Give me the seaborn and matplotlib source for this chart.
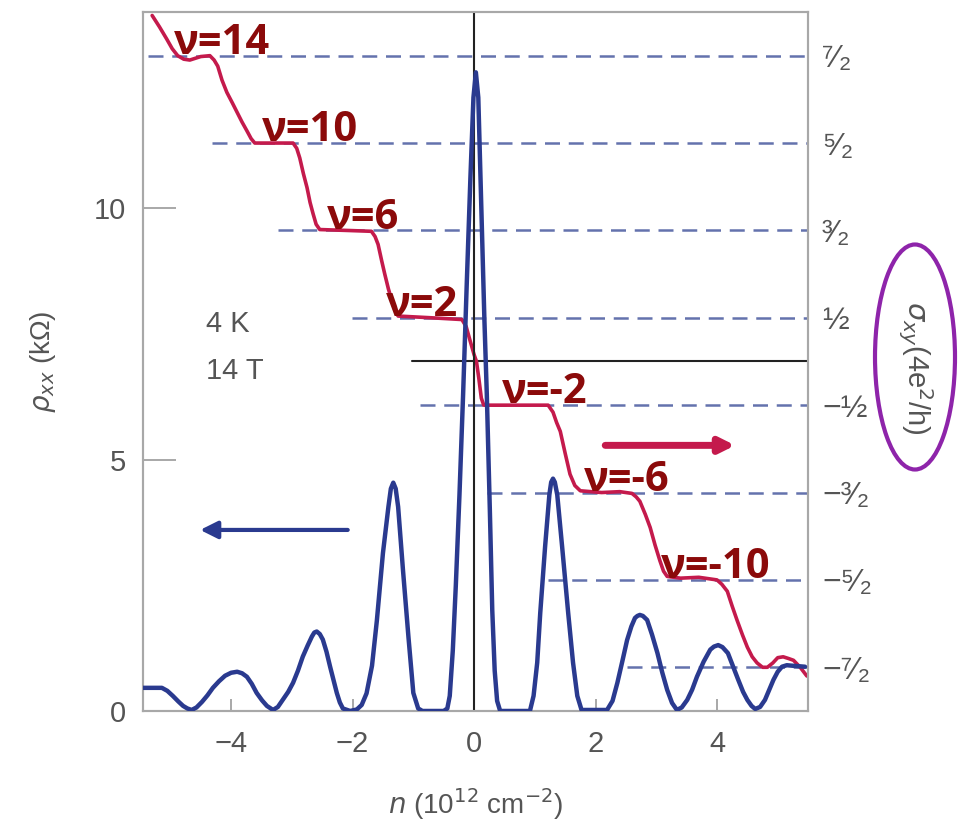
import matplotlib
matplotlib.use("Agg")
import matplotlib.pyplot as plt
from matplotlib.patches import Ellipse
import seaborn as sns
import pandas as pd

# rho_xx (kOhm)
rho_n = [-5.45, -5.14, -5.05, -4.96, -4.87, -4.79, -4.72, -4.65, -4.57, -4.48,
         -4.39, -4.30, -4.20, -4.10, -4.00, -3.90, -3.82, -3.74, -3.66, -3.58,
         -3.49, -3.41, -3.31, -3.23, -3.15, -3.06, -2.98, -2.90, -2.82, -2.74,
         -2.67, -2.63, -2.59, -2.54, -2.49, -2.43, -2.37, -2.31, -2.26, -2.21,
         -2.16, -2.04, -1.93, -1.85, -1.77, -1.68, -1.60, -1.50, -1.41, -1.37,
         -1.33, -1.29, -1.25, -1.17, -1.08, -1.00, -0.92, -0.85, -0.50, -0.44,
         -0.40, -0.35, -0.30, -0.24, -0.18, -0.12, -0.06, -0.01, 0.03, 0.07,
         0.12, 0.17, 0.21, 0.26, 0.30, 0.34, 0.38, 0.43, 0.92, 0.98,
         1.04, 1.09, 1.17, 1.24, 1.27, 1.30, 1.33, 1.37, 1.45, 1.55,
         1.63, 1.70, 1.77, 2.19, 2.28, 2.36, 2.44, 2.52, 2.59, 2.65,
         2.69, 2.73, 2.78, 2.85, 2.93, 3.02, 3.10, 3.18, 3.26, 3.34,
         3.42, 3.51, 3.59, 3.67, 3.78, 3.89, 3.95, 4.02, 4.09, 4.18,
         4.26, 4.35, 4.43, 4.50, 4.57, 4.63, 4.71, 4.79, 4.86, 4.93,
         5.00, 5.07, 5.15, 5.24, 5.35, 5.45]
rho_val = [0.46, 0.46, 0.40, 0.30, 0.19, 0.10, 0.05, 0.02, 0.07, 0.18,
           0.31, 0.46, 0.59, 0.70, 0.76, 0.78, 0.75, 0.68, 0.54, 0.36,
           0.21, 0.10, 0.02, 0.08, 0.22, 0.38, 0.56, 0.80, 1.08, 1.30,
           1.48, 1.56, 1.58, 1.53, 1.42, 1.18, 0.88, 0.60, 0.36, 0.17,
           0.05, 0.00, 0.03, 0.12, 0.35, 0.90, 1.80, 3.14, 4.06, 4.42,
           4.54, 4.42, 4.06, 2.80, 1.47, 0.36, 0.05, 0.00, 0.00, 0.05,
           0.30, 1.20, 2.50, 4.30, 6.30, 8.50, 10.6, 12.2, 12.7, 12.2,
           10.0, 7.80, 6.30, 4.00, 2.00, 0.80, 0.20, 0.00, 0.00, 0.30,
           0.96, 1.95, 3.27, 4.30, 4.55, 4.62, 4.55, 4.30, 3.27, 1.95,
           0.96, 0.30, 0.02, 0.02, 0.20, 0.56, 0.98, 1.41, 1.68, 1.85,
           1.89, 1.91, 1.89, 1.81, 1.52, 1.15, 0.76, 0.42, 0.16, 0.02,
           0.07, 0.22, 0.42, 0.68, 0.98, 1.22, 1.28, 1.31, 1.27, 1.15,
           0.90, 0.62, 0.38, 0.22, 0.10, 0.04, 0.08, 0.22, 0.42, 0.62,
           0.78, 0.88, 0.91, 0.90, 0.89, 0.88]

# sigma_xy (4e^2/h)
sig_n = [-5.30, -5.18, -5.06, -4.97, -4.88, -4.78, -4.68, -4.50, -4.35, -4.28,
         -4.22, -4.15, -4.07, -3.98, -3.90, -3.82, -3.74, -3.67, -3.61, -3.30,
         -2.98, -2.92, -2.87, -2.81, -2.75, -2.70, -2.65, -2.60, -2.54, -2.10,
         -1.69, -1.63, -1.58, -1.52, -1.47, -1.41, -1.35, -1.30, -1.25, -0.70,
         -0.20, -0.13, -0.07, 0.00, 0.04, 0.08, 0.12, 0.16, 0.70, 1.22,
         1.30, 1.36, 1.42, 1.50, 1.58, 1.66, 1.75, 2.10, 2.40, 2.60,
         2.67, 2.73, 2.82, 2.90, 2.98, 3.06, 3.12, 3.18, 3.40, 3.70,
         4.00, 4.08, 4.17, 4.25, 4.33, 4.42, 4.50, 4.58, 4.66, 4.75,
         4.83, 4.92, 5.00, 5.09, 5.18, 5.26, 5.37, 5.48]
sig_val = [3.96, 3.83, 3.69, 3.58, 3.50, 3.46, 3.45, 3.49, 3.50, 3.45,
           3.38, 3.22, 3.08, 2.96, 2.85, 2.74, 2.64, 2.55, 2.50, 2.50,
           2.50, 2.44, 2.33, 2.15, 1.99, 1.82, 1.69, 1.57, 1.51, 1.50,
           1.49, 1.43, 1.34, 1.15, 1.00, 0.83, 0.69, 0.58, 0.52, 0.50,
           0.48, 0.40, 0.25, 0.08, 0.00, -0.20, -0.42, -0.50, -0.50, -0.50,
           -0.58, -0.70, -0.80, -1.05, -1.29, -1.42, -1.48, -1.50, -1.49, -1.51,
           -1.55, -1.60, -1.75, -1.90, -2.10, -2.28, -2.40, -2.46, -2.48, -2.47,
           -2.50, -2.55, -2.63, -2.80, -2.96, -3.13, -3.27, -3.38, -3.45, -3.50,
           -3.50, -3.45, -3.39, -3.38, -3.40, -3.42, -3.50, -3.60]

# quantised plateau levels and where their dashed guides begin
levels = [3.5, 2.5, 1.5, 0.5, -0.5, -1.5, -2.5, -3.5]
level_labels = ["⁷⁄₂", "⁵⁄₂", "³⁄₂", "½", "−½", "−³⁄₂", "−⁵⁄₂", "−⁷⁄₂"]
guide_start = [-5.37, -4.32, -3.23, -2.01, -0.89, 0.22, 1.22, 2.52]

nu_labels = ["ν=14", "ν=10", "ν=6", "ν=2", "ν=-2", "ν=-6", "ν=-10"]
nu_x = [-4.95, -3.50, -2.43, -1.45, 0.46, 1.81, 3.08]

BLUE = "#2a3a8f"
RED = "#c41a4c"
DARK_RED = "#8b0a0a"
GUIDE = "#6472ad"
GRAY = "#555555"

sns.set_style("white")
plt.rcParams["font.family"] = ["Liberation Sans", "DejaVu Sans"]

fig = plt.figure(figsize=(9.62, 8.27), dpi=100)
ax = fig.add_axes([0.1487, 0.1403, 0.6913, 0.8452])
ax2 = ax.twinx()

xmin, xmax = -5.45, 5.5
ax.set_xlim(xmin, xmax)
ax.set_ylim(0, 13.9)
ax2.set_ylim(-4, 4)

# guides and zero lines on the sigma axis
for lv, x0 in zip(levels, guide_start):
    ax2.plot([x0, xmax], [lv, lv], ls=(0, (6, 3.5)), color=GUIDE, lw=1.8, zorder=1)
ax2.plot([-1.02, xmax], [0, 0], color="#222222", lw=1.5, zorder=1)
ax.axvline(0, color="#222222", lw=1.5, zorder=1)

sig_df = pd.DataFrame({"n": sig_n, "sigma": sig_val})
sns.lineplot(data=sig_df, x="n", y="sigma", ax=ax2, color=RED, lw=2.6,
             sort=False, estimator=None, zorder=3, solid_joinstyle="round")

rho_df = pd.DataFrame({"n": rho_n, "rho": rho_val})
sns.lineplot(data=rho_df, x="n", y="rho", ax=ax, color=BLUE, lw=3.2,
             sort=False, estimator=None, zorder=4, solid_joinstyle="round")

ax.set_zorder(ax2.get_zorder() + 1)
ax.patch.set_visible(False)

for lab, xl, lv in zip(nu_labels, nu_x, levels[:7]):
    ax2.text(xl, lv + 0.02, lab, color=DARK_RED, fontsize=30, fontweight="bold",
             family=["Open Sans", "DejaVu Sans"], va="baseline", ha="left", zorder=5)

# direction arrows
ax.annotate("", xy=(-4.51, 3.6), xytext=(-2.08, 3.6),
            arrowprops=dict(arrowstyle="-|>", color=BLUE, lw=3,
                            mutation_scale=26, shrinkA=0, shrinkB=0))
ax2.annotate("", xy=(4.3, -0.96), xytext=(2.16, -0.96),
             arrowprops=dict(arrowstyle="-|>", color=RED, lw=5,
                             mutation_scale=22, shrinkA=0, shrinkB=0))

ax.text(-4.42, 7.53, "4 K", fontsize=21, color=GRAY)
ax.text(-4.42, 6.6, "14 T", fontsize=21, color=GRAY)

# axes cosmetics
ax.set_xticks([-4, -2, 0, 2, 4])
ax.set_xticklabels(["−4", "−2", "0", "2", "4"])
ax.set_yticks([0, 5, 10])
ax.tick_params(axis="x", direction="in", length=9, width=1.2, color="#999999",
               labelsize=21, labelcolor=GRAY, pad=14, bottom=True)
ax.tick_params(axis="y", direction="in", length=24, width=1.2, color="#999999",
               labelsize=21, labelcolor=GRAY, pad=12, left=True)
ax2.set_yticks(levels)
ax2.set_yticklabels(level_labels)
ax2.tick_params(axis="y", length=0, labelsize=23, labelcolor=GRAY, pad=10)
for a in (ax, ax2):
    for s in a.spines.values():
        s.set_color("#a8a8a8")
        s.set_linewidth(1.5)

ax.set_xlabel(r"$n$ (10$^{12}$ cm$^{-2}$)", fontsize=20, color=GRAY, labelpad=20)
ax.set_ylabel(r"$\rho_{xx}$ (kΩ)", fontsize=20, color=GRAY, labelpad=26)
ax2.set_ylabel("")

fig.text(0.951, 0.555, r"$\sigma_{xy}$(4e$^2$/h)", rotation=270, fontsize=21,
         color=GRAY, ha="center", va="center")
fig.add_artist(Ellipse((915 / 962, 1 - 357 / 827), 80 / 962, 225 / 827,
                       transform=fig.transFigure, fill=False, ec="#8e24aa", lw=3))

fig.savefig("out.png", dpi=100)
plt.close(fig)
